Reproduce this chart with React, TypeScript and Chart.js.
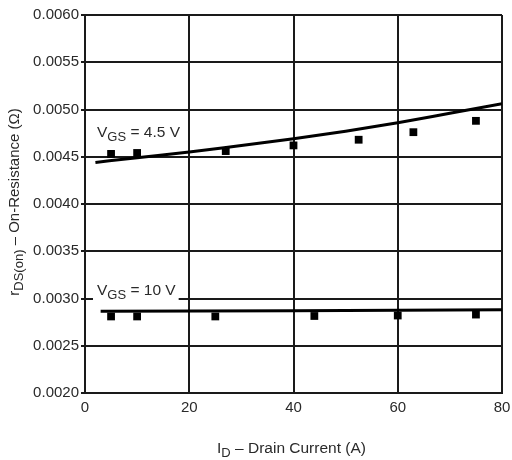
import React, { useEffect, useRef } from "react";
import { Chart, registerables } from "chart.js";

Chart.register(...registerables);

// Measured points
const pointsX45 = [5, 10, 27, 40, 52.5, 63, 75];
const pointsY45 = [0.00453, 0.00454, 0.00456, 0.00462, 0.00468, 0.00476, 0.00488];
const pointsX10 = [5, 10, 25, 44, 60, 75];
const pointsY10 = [0.00281, 0.00281, 0.00281, 0.002815, 0.00282, 0.00283];

// Fitted curves
const curveX45 = [2, 10, 20, 30, 40, 50, 60, 70, 80];
const curveY45 = [0.00444, 0.00449, 0.00455, 0.00462, 0.00469, 0.00477, 0.00486, 0.00496, 0.00506];
const curveX10 = [3, 40, 80];
const curveY10 = [0.002865, 0.00287, 0.00288];

const xTicks = [0, 20, 40, 60, 80];
const yTickLabels = ["0.0020", "0.0025", "0.0030", "0.0035", "0.0040", "0.0045", "0.0050", "0.0055", "0.0060"];

const FONT = "'Liberation Sans', Arial, Helvetica, sans-serif";
const INK = "#1a1a1a";
const TXT = "#2a2a2a";

type Part = { t: string; sub?: boolean };

function drawParts(ctx: CanvasRenderingContext2D, parts: Part[], x: number, y: number, size: number, align: "left" | "center") {
  const subSize = Math.round(size * 0.85);
  let total = 0;
  const widths = parts.map((p) => {
    ctx.font = `${p.sub ? subSize : size}px ${FONT}`;
    const w = ctx.measureText(p.t).width;
    total += w;
    return w;
  });
  let cx = align === "center" ? x - total / 2 : x;
  parts.forEach((p, i) => {
    ctx.font = `${p.sub ? subSize : size}px ${FONT}`;
    ctx.fillText(p.t, cx, p.sub ? y + 4 : y);
    cx += widths[i];
  });
  return total;
}

const annotations = {
  id: "annotations",
  afterDatasetsDraw(chart: any) {
    const ctx: CanvasRenderingContext2D = chart.ctx;
    const xs = chart.scales.x;
    const ys = chart.scales.y;
    ctx.save();
    ctx.fillStyle = TXT;
    ctx.textBaseline = "alphabetic";
    ctx.textAlign = "left";

    // VGS = 4.5 V
    drawParts(ctx, [{ t: "V" }, { t: "GS", sub: true }, { t: " = 4.5 V" }], xs.getPixelForValue(2.3), ys.getPixelForValue(0.004709), 15.5, "left");

    // VGS = 10 V with white background
    const lx = xs.getPixelForValue(2.3);
    const ly = ys.getPixelForValue(0.003032);
    ctx.font = `15.5px ${FONT}`;
    const w =
      ctx.measureText("V").width +
      (() => { ctx.font = `13px ${FONT}`; return ctx.measureText("GS").width; })() +
      (() => { ctx.font = `15.5px ${FONT}`; return ctx.measureText(" = 10 V").width; })();
    ctx.fillStyle = "#ffffff";
    ctx.fillRect(lx - 4, ly - 12, w + 7, 18);
    ctx.fillStyle = TXT;
    drawParts(ctx, [{ t: "V" }, { t: "GS", sub: true }, { t: " = 10 V" }], lx, ly, 15.5, "left");
    ctx.restore();
  },
  afterDraw(chart: any) {
    const ctx: CanvasRenderingContext2D = chart.ctx;
    const area = chart.chartArea;
    ctx.save();
    ctx.fillStyle = TXT;
    ctx.textBaseline = "alphabetic";
    // X title
    drawParts(ctx, [{ t: "I" }, { t: "D", sub: true }, { t: " – Drain Current (A)" }], (area.left + area.right) / 2 - 2, 453, 15.5, "center");
    // Y title
    ctx.translate(19, 202);
    ctx.rotate(-Math.PI / 2);
    drawParts(ctx, [{ t: "r" }, { t: "DS(on)", sub: true }, { t: " – On-Resistance (Ω)" }], 0, 0, 15, "center");
    ctx.restore();
  },
};

export default function App() {
  const ref = useRef<HTMLCanvasElement>(null);
  useEffect(() => {
    if (!ref.current) return;
    const toXY = (xs: number[], ys: number[]) => xs.map((x, i) => ({ x, y: ys[i] }));
    const chart = new Chart(ref.current, {
      type: "scatter",
      data: {
        datasets: [
          {
            data: toXY(pointsX45, pointsY45),
            pointStyle: "rect",
            pointRadius: 5.5,
            backgroundColor: "#000",
            borderColor: "#000",
            borderWidth: 0,
            order: 0,
          },
          {
            data: toXY(pointsX10, pointsY10),
            pointStyle: "rect",
            pointRadius: 5.5,
            backgroundColor: "#000",
            borderColor: "#000",
            borderWidth: 0,
            order: 0,
          },
          {
            data: toXY(curveX45, curveY45),
            showLine: true,
            tension: 0.4,
            cubicInterpolationMode: "monotone",
            borderColor: "#000",
            borderWidth: 3,
            pointRadius: 0,
            order: 1,
          } as any,
          {
            data: toXY(curveX10, curveY10),
            showLine: true,
            borderColor: "#000",
            borderWidth: 3,
            pointRadius: 0,
            order: 1,
          } as any,
        ],
      },
      options: {
        animation: false,
        responsive: false,
        layout: { padding: { top: 15, right: 10, left: 0, bottom: 0 } },
        plugins: { legend: { display: false }, tooltip: { enabled: false } },
        scales: {
          x: {
            type: "linear",
            min: 0,
            max: 80,
            afterBuildTicks: (s: any) => {
              s.ticks = xTicks.map((v) => ({ value: v }));
            },
            ticks: {
              color: TXT,
              font: { size: 15, family: FONT },
              padding: 6,
              maxRotation: 0,
              callback: (v: any) => String(v),
            },
            grid: { color: INK, lineWidth: 2, drawTicks: false },
            border: { display: true, color: INK, width: 2 },
            afterFit: (s: any) => {
              s.height = 67;
              s.paddingRight = 0;
              s.paddingLeft = 0;
            },
          },
          y: {
            type: "linear",
            min: 0.002,
            max: 0.006,
            afterBuildTicks: (s: any) => {
              s.ticks = yTickLabels.map((l) => ({ value: parseFloat(l) }));
            },
            ticks: {
              color: TXT,
              font: { size: 15, family: FONT },
              padding: 2,
              callback: (v: any) => Number(v).toFixed(4),
            },
            grid: { color: INK, lineWidth: 2, tickLength: 4 },
            border: { display: true, color: INK, width: 2 },
            afterFit: (s: any) => {
              s.width = 85;
            },
          },
        },
      },
      plugins: [annotations],
    });
    return () => chart.destroy();
  }, []);
  return (
    <div style={{ position: "fixed", left: 0, top: 0, width: 512, height: 460, background: "#fff" }}>
      <canvas ref={ref} width={512} height={460} style={{ width: 512, height: 460, display: "block" }} />
    </div>
  );
}
